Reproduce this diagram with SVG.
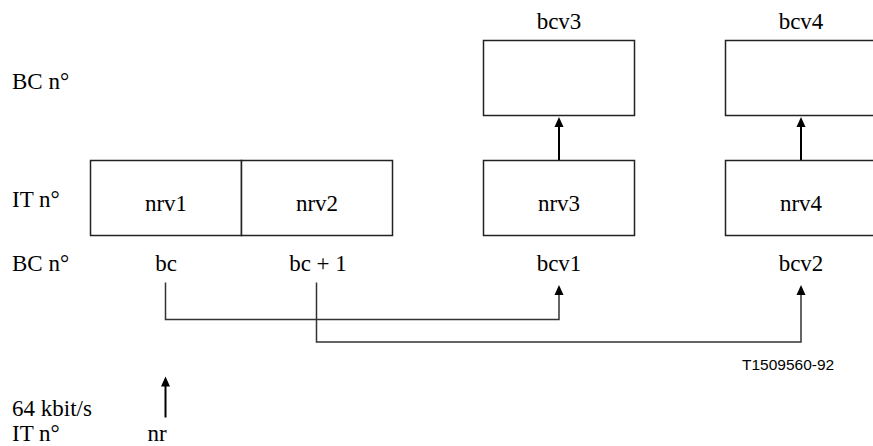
<svg xmlns="http://www.w3.org/2000/svg" width="873" height="446" viewBox="0 0 873 446">
<style>
text{font-family:"Liberation Serif","Times New Roman",serif;font-size:23px;fill:#000}
.m{text-anchor:middle}
text.s{font-family:"Liberation Sans",Arial,sans-serif;font-size:15.5px}
.box{fill:#fff;stroke:#222;stroke-width:1.5}
.c{fill:none;stroke:#333;stroke-width:1.5}
.a{fill:none;stroke:#000;stroke-width:2}
.h{fill:#000}
</style>
<g id="labels">
<text x="12" y="89">BC n°</text>
<text x="12" y="207">IT n°</text>
<text x="12" y="271">BC n°</text>
<text x="12" y="416">64 kbit/s</text>
<text x="12" y="440.5">IT n°</text>
<text class="s" x="742" y="370">T1509560-92</text>
</g>
<g id="nrv1">
<rect class="box" x="90.5" y="160.5" width="151" height="75"/>
<text class="m" x="166" y="210.5">nrv1</text>
<text class="m" x="166" y="271">bc</text>
</g>
<g id="nrv2">
<rect class="box" x="241.5" y="160.5" width="151" height="75"/>
<text class="m" x="317" y="210.5">nrv2</text>
<text class="m" x="318" y="271">bc + 1</text>
</g>
<g id="nrv3">
<rect class="box" x="483.5" y="160.5" width="151" height="75"/>
<text class="m" x="559" y="210.5">nrv3</text>
<text class="m" x="559" y="271">bcv1</text>
</g>
<g id="nrv4">
<rect class="box" x="725.5" y="160.5" width="151" height="75"/>
<text class="m" x="801" y="210.5">nrv4</text>
<text class="m" x="801" y="271">bcv2</text>
</g>
<g id="bcv3">
<rect class="box" x="483.5" y="40.5" width="151" height="75"/>
<text class="m" x="559" y="29">bcv3</text>
</g>
<g id="bcv4">
<rect class="box" x="725.5" y="40.5" width="151" height="75"/>
<text class="m" x="801" y="29">bcv4</text>
</g>
<g id="nr">
<text class="m" x="157" y="440.5">nr</text>
</g>
<g id="connectors">
<line class="a" x1="559" y1="160" x2="559" y2="126"/>
<polygon class="h" points="559,117 554.5,127 563.5,127"/>
<line class="a" x1="801" y1="160" x2="801" y2="126"/>
<polygon class="h" points="801,117 796.5,127 805.5,127"/>
<polyline class="c" points="165.5,282.5 165.5,319.5 559,319.5 559,294"/>
<polygon class="h" points="559,285 554.5,295 563.5,295"/>
<polyline class="c" points="316.5,282.5 316.5,342 801,342 801,294"/>
<polygon class="h" points="801,285 796.5,295 805.5,295"/>
<line class="a" x1="165.5" y1="417.5" x2="165.5" y2="385"/>
<polygon class="h" points="165.5,376.5 161,386.5 170,386.5"/>
</g>
</svg>
